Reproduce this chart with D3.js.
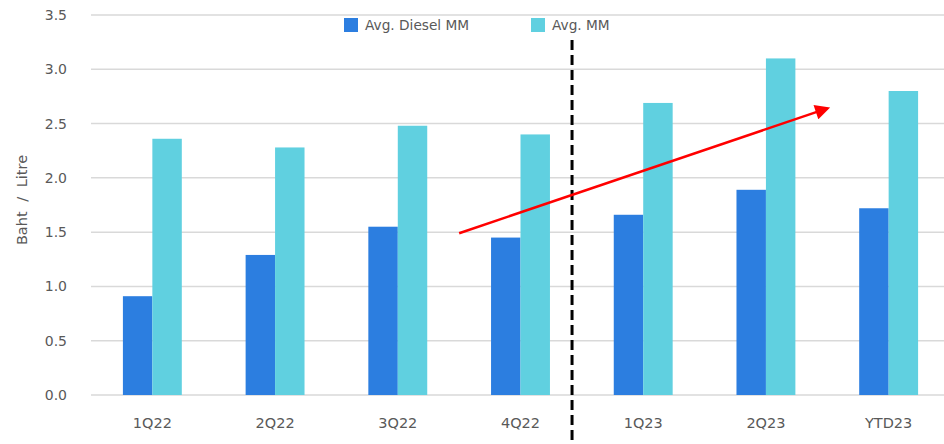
<!DOCTYPE html>
<html>
<head>
<meta charset="utf-8">
<script src="https://cdn.jsdelivr.net/npm/d3@7"></script>
<style>
  html, body { margin: 0; padding: 0; background: #fff; overflow: hidden; }
  #chart { width: 944px; height: 444px; }
  text { font-family: "DejaVu Sans", sans-serif; fill: #595959; }
</style>
</head>
<body>
<div id="chart"></div>
<script>
/* Diesel vs. overall marketing margin — grouped bars with trend arrow. */

var categories = ["1Q22", "2Q22", "3Q22", "4Q22", "1Q23", "2Q23", "YTD23"];
var dieselMM = [0.91, 1.29, 1.55, 1.45, 1.66, 1.89, 1.72];
var avgMM = [2.36, 2.28, 2.48, 2.40, 2.69, 3.10, 2.80];
var seriesNames = ["Avg. Diesel MM", "Avg. MM"];
var yTicks = [0, 0.5, 1.0, 1.5, 2.0, 2.5, 3.0, 3.5];
// trend arrow: from start of 4Q22 band to start of YTD23 band
var arrowFrom = { cat: "4Q22", value: 1.49 };
var arrowTo = { cat: "YTD23", value: 2.64 };

(function () {
  var el = document.getElementById("chart");
  var width = 944, height = 444;
  var margin = { top: 15, right: -6, bottom: 49, left: 91 };
  var innerW = width - margin.left - margin.right;
  var innerH = height - margin.top - margin.bottom;
  var colorDiesel = "#2c7ee0";
  var colorMM = "#60d0e0";

  var svg = d3.select(el).append("svg")
    .attr("width", width).attr("height", height)
    .attr("viewBox", "0 0 " + width + " " + height);

  svg.append("defs").append("marker")
    .attr("id", "arrowhead")
    .attr("viewBox", "0 0 10 10")
    .attr("refX", 8).attr("refY", 5)
    .attr("markerWidth", 6.5).attr("markerHeight", 6)
    .attr("markerUnits", "strokeWidth")
    .attr("orient", "auto")
    .append("path").attr("d", "M0,0 L10,5 L0,10 z").attr("fill", "#ff0000");

  var g = svg.append("g").attr("transform", "translate(" + margin.left + "," + margin.top + ")");

  var x = d3.scaleBand().domain(categories).range([0, innerW]);
  var xi = d3.scaleBand().domain(seriesNames).range([x.bandwidth() * 0.26, x.bandwidth() * 0.74]);
  var y = d3.scaleLinear().domain([0, 3.5]).range([innerH, 0]);

  // gridlines
  g.append("g").selectAll("line").data(yTicks).enter().append("line")
    .attr("x1", 0).attr("x2", innerW)
    .attr("y1", function (d) { return y(d); }).attr("y2", function (d) { return y(d); })
    .attr("stroke", "#d9d9d9").attr("stroke-width", 1.5);

  // y axis labels
  var yAxis = g.append("g")
    .call(d3.axisLeft(y).tickValues(yTicks).tickFormat(d3.format(".1f")).tickSize(0).tickPadding(24));
  yAxis.select(".domain").remove();
  yAxis.selectAll("text").attr("font-size", 14).attr("fill", "#595959")
    .style("font-family", "'DejaVu Sans', sans-serif");

  // x axis labels
  var xAxis = g.append("g").attr("transform", "translate(0," + innerH + ")")
    .call(d3.axisBottom(x).tickSize(0).tickPadding(23));
  xAxis.select(".domain").remove();
  xAxis.selectAll("text").attr("font-size", 14.5).attr("fill", "#595959")
    .style("font-family", "'DejaVu Sans', sans-serif");

  // bars
  var groups = g.append("g").selectAll("g").data(categories).enter().append("g")
    .attr("transform", function (d) { return "translate(" + x(d) + ",0)"; });

  groups.append("rect")
    .attr("x", xi(seriesNames[0])).attr("width", xi.bandwidth())
    .attr("y", function (d, i) { return y(dieselMM[i]); })
    .attr("height", function (d, i) { return innerH - y(dieselMM[i]); })
    .attr("fill", colorDiesel);

  groups.append("rect")
    .attr("x", xi(seriesNames[1])).attr("width", xi.bandwidth())
    .attr("y", function (d, i) { return y(avgMM[i]); })
    .attr("height", function (d, i) { return innerH - y(avgMM[i]); })
    .attr("fill", colorMM);

  // dashed separator between 2022 and 2023
  var sepX = x(categories[4]) - x.step() * 0.08;
  g.append("line")
    .attr("x1", sepX).attr("x2", sepX)
    .attr("y1", y(3.27)).attr("y2", height)
    .attr("stroke", "#000").attr("stroke-width", 3).attr("stroke-dasharray", "10 5");

  // trend arrow
  g.append("line")
    .attr("x1", x(arrowFrom.cat)).attr("y1", y(arrowFrom.value))
    .attr("x2", x(arrowTo.cat)).attr("y2", y(arrowTo.value))
    .attr("stroke", "#ff0000").attr("stroke-width", 2.5)
    .attr("marker-end", "url(#arrowhead)");

  // y axis title
  svg.append("text")
    .attr("transform", "translate(27,200) rotate(-90)")
    .attr("text-anchor", "middle").attr("font-size", 14.5)
    .attr("word-spacing", 5)
    .text("Baht / Litre");

  // legend
  var legend = svg.append("g").attr("transform", "translate(344,18)");
  var legendX = [0, 187];
  var legendColors = [colorDiesel, colorMM];
  seriesNames.forEach(function (name, i) {
    var lg = legend.append("g").attr("transform", "translate(" + legendX[i] + ",0)");
    lg.append("rect").attr("width", 14).attr("height", 14).attr("fill", legendColors[i]);
    lg.append("text").attr("x", 21).attr("y", 12).attr("font-size", 13.7).text(name);
  });
})();
</script>
</body>
</html>
